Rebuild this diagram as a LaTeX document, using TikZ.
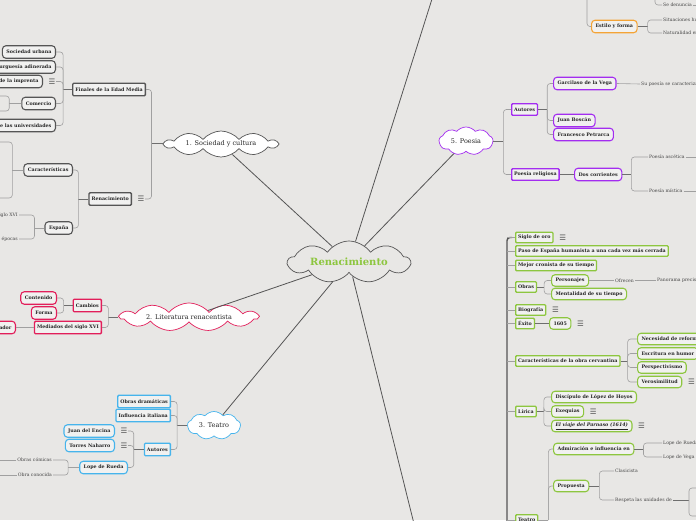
\documentclass[tikz,border=0pt]{standalone}
\usepackage{fontspec}
\usepackage{xcolor}
\usepackage{tikz}
\usetikzlibrary{shapes.symbols, shapes.geometric, positioning, calc}
\newfontfamily\mapfont{DejaVu Serif}
\newfontfamily\glyphfont{DejaVu Sans}
\newcommand\tagfont{\mapfont\bfseries\fontsize{4.8}{5.6}\selectfont}
\newcommand\mapnote{\mapfont\fontsize{4.6}{5.4}\selectfont}
\newcommand\hubfont{\mapfont\fontsize{6.5}{7.5}\selectfont}
\newcommand\rootfont{\mapfont\bfseries\fontsize{10}{12}\selectfont}
\newcommand\menufont{\glyphfont\fontsize{7.5}{8}\selectfont}
\definecolor{paper}{RGB}{232,231,229}
\definecolor{boxfill}{RGB}{241,241,240}
\definecolor{inkgray}{RGB}{85,85,85}
\definecolor{wiregray}{RGB}{160,160,160}
\definecolor{stubgray}{RGB}{110,110,110}
\definecolor{crimson}{RGB}{226,30,90}
\definecolor{skyblue}{RGB}{70,180,236}
\definecolor{poepurple}{RGB}{163,45,240}
\definecolor{leafgreen}{RGB}{141,198,63}
\definecolor{amber}{RGB}{244,164,54}
\definecolor{notegray}{RGB}{70,70,70}
\tikzset{
  % Mind map styles
  hub/.style={cloud, cloud ignores aspect, cloud puff arc=100, draw=inkgray, line width=0.7pt, fill=white, inner sep=0pt, text=black!85, font=\hubfont},
  topic/.style={rectangle, rounded corners=1pt, draw=#1, line width=1.3pt, fill=boxfill, text=black!85, font=\tagfont, inner xsep=2.5pt, inner ysep=0pt, minimum height=12.5pt},
  topic/.default=inkgray,
  leaf/.style={rectangle, rounded corners=3.5pt, draw=#1, line width=1.1pt, fill=boxfill, text=black!85, font=\tagfont, inner xsep=4pt, inner ysep=0pt, minimum height=12.5pt},
  leaf/.default=inkgray,
  note/.style={font=\mapnote, text=notegray, inner sep=1pt},
  menu/.style={font=\menufont, text=inkgray, inner sep=0.5pt},
  % Connector styles
  spoke/.style={draw=inkgray, line width=0.8pt},
  stub/.style={draw=stubgray, line width=0.9pt},
  wire/.style={draw=wiregray, line width=0.6pt, rounded corners=3pt},
  trunk/.style={draw=inkgray, line width=1.4pt},
}

\begin{document}
\begin{tikzpicture}[
    x=1pt, y=-1pt,
    cvtopic/.style={topic=leafgreen, anchor=west, minimum height=10.5pt},
    cvleaf/.style={leaf=leafgreen, anchor=west, minimum height=11.5pt}
  ]
    \path[use as bounding box] (0,0) rectangle (696,520);
    \fill[paper] (0,0) rectangle (696,520);
    \clip (0,0) rectangle (696,520);

    % Root
    \node[hub, minimum width=122pt, minimum height=42pt, cloud puffs=9, cloud puff arc=110, fill=paper, font=\rootfont, text=leafgreen] (ren) at (349,262) {Renacimiento};

    % 1. Sociedad y cultura
    \node[hub, minimum width=112pt, minimum height=26pt, cloud puffs=10] (soc) at (221,144) {1. Sociedad y cultura};
    \node[topic, anchor=east] (fin) at (146,89.5) {Finales de la Edad Media};
    \node[leaf, anchor=east] (urb) at (56,52) {Sociedad urbana};
    \node[leaf, anchor=east] (bur) at (56,67) {Burguesía adinerada};
    \node[leaf, anchor=east] (imp) at (43,81.5) {Invención de la imprenta};
    \node[menu, right=5pt of imp] (impm) {☰};
    \node[leaf, anchor=east] (com) at (56,103.5) {Comercio};
    \node[leaf, anchor=east] (uni) at (56,125.5) {Fundación de las universidades};
    \node[topic, anchor=east] (rnc) at (132,199) {Renacimiento};
    \node[menu, right=5pt of rnc] (rncm) {☰};
    \node[leaf, anchor=east] (crc) at (73,170) {Características};
    \node[leaf, anchor=east] (esp) at (73,228) {España};
    \node[note, anchor=east] (xvi) at (19,215) {Siglo XVI};
    \node[note, anchor=east] (epo) at (19,239) {Dos épocas};
    \coordinate (comup) at (-6,96);
    \coordinate (comdn) at (-6,111);
    \coordinate (crcup) at (-4,142);
    \coordinate (crcdn) at (-4,198);

    \draw[stub] (soc.west) -- ++(-11,0) coordinate (socj);
    \draw[wire] (socj) |- (fin.east);
    \draw[wire] (socj) |- (rncm.east);
    \draw[stub] (fin.west) -- ++(-9,0) coordinate (finj);
    \foreach \k in {urb,bur,impm,com,uni}
      \draw[wire] (finj) |- (\k.east);
    \draw[wire] (com.west) -- ++(-12,0) coordinate (comj);
    \draw[wire] (comj) |- (comup);
    \draw[wire] (comj) |- (comdn);
    \draw[stub] (rnc.west) -- ++(-10,0) coordinate (rncj);
    \draw[wire] (rncj) |- (crc.east);
    \draw[wire] (rncj) |- (esp.east);
    \draw[wire] (crc.west) -- ++(-11,0) coordinate (crcj);
    \draw[wire] (crcj) |- (crcup);
    \draw[wire] (crcj) |- (crcdn);
    \draw[wire] (esp.west) -- ++(-10,0) coordinate (espj);
    \draw[wire] (espj) |- (xvi.east);
    \draw[wire] (espj) |- (epo.east);

    % 2. Literatura renacentista
    \node[hub, draw=crimson, minimum width=138pt, minimum height=28pt, cloud puffs=11] (lit) at (189,317) {2. Literatura renacentista};
    \node[topic=crimson, anchor=east] (cam) at (102,305.5) {Cambios};
    \node[topic=crimson, anchor=east] (med) at (102,327.5) {Mediados del siglo XVI};
    \node[leaf=crimson, anchor=east] (cont) at (57,298) {Contenido};
    \node[leaf=crimson, anchor=east] (form) at (57,313) {Forma};
    \node[leaf=crimson, anchor=east] (inno) at (16,327.5) {Innovador};

    \draw[stub] (lit.west) -- ++(-10,0) coordinate (litj);
    \draw[wire] (litj) |- (cam.east);
    \draw[wire] (litj) |- (med.east);
    \draw[stub] (cam.west) -- ++(-9,0) coordinate (camj);
    \draw[wire] (camj) |- (cont.east);
    \draw[wire] (camj) |- (form.east);
    \draw[wire] (med.west) -- (inno.east);

    % 3. Teatro
    \node[hub, draw=skyblue, minimum width=53pt, minimum height=28pt, cloud puffs=9] (tea) at (214,425.5) {3. Teatro};
    \node[topic=skyblue, anchor=east] (obd) at (171,401.5) {Obras dramáticas};
    \node[topic=skyblue, anchor=east] (ita) at (171,415.5) {Influencia italiana};
    \node[topic=skyblue, anchor=east] (aut) at (171,449.5) {Autores};
    \node[leaf=skyblue, anchor=east] (enc) at (115,431) {Juan del Encina};
    \node[menu, right=5pt of enc] (encm) {☰};
    \node[leaf=skyblue, anchor=east] (nah) at (115,445.5) {Torres Naharro};
    \node[menu, right=5pt of nah] (nahm) {☰};
    \node[leaf=skyblue, anchor=east] (rue) at (128,467.5) {Lope de Rueda};
    \node[note, anchor=east] (cmc) at (53,460) {Obras cómicas};
    \node[note, anchor=east] (cnc) at (53,475) {Obra conocida};
    \coordinate (cmcx) at (-4,460);
    \coordinate (cncx) at (-4,475);

    \draw[stub] (tea.west) -- ++(-10,0) coordinate (teaj);
    \foreach \k in {obd,ita,aut}
      \draw[wire] (teaj) |- (\k.east);
    \draw[stub] (aut.west) -- ++(-10,0) coordinate (autj);
    \foreach \k in {encm,nahm,rue}
      \draw[wire] (autj) |- (\k.east);
    \draw[wire] (rue.west) -- ++(-11,0) coordinate (ruej);
    \draw[wire] (ruej) |- (cmc.east);
    \draw[wire] (ruej) |- (cnc.east);
    \draw[wire] (cmc.west) -- (cmcx);
    \draw[wire] (cnc.west) -- (cncx);

    % 5. Poesia
    \node[hub, draw=poepurple, minimum width=54pt, minimum height=28pt, cloud puffs=9] (poe) at (466,141) {5. Poesia};
    \node[topic=poepurple, anchor=west, minimum height=11.5pt] (pau) at (511,109.5) {Autores};
    \node[topic=poepurple, anchor=west, minimum height=11.5pt] (prl) at (511,174.5) {Poesía religiosa};
    \node[leaf=poepurple, anchor=west] (gar) at (553,83.5) {Garcilaso de la Vega};
    \node[leaf=poepurple, anchor=west] (bos) at (553,120.5) {Juan Boscán};
    \node[leaf=poepurple, anchor=west] (pet) at (553,134.5) {Francesco Petrarca};
    \node[note, anchor=west] (sup) at (640,84) {Su poesía se caracteriza por};
    \node[leaf=poepurple, anchor=west] (dos) at (574,174.5) {Dos corrientes};
    \node[note, anchor=west] (asc) at (648,157) {Poesía ascética};
    \node[note, anchor=west] (mis) at (648,191) {Poesía mística};
    \coordinate (ascx) at (700,157);
    \coordinate (misx) at (700,191);

    \draw[stub] (poe.east) -- ++(10,0) coordinate (poej);
    \draw[wire] (poej) |- (pau.west);
    \draw[wire] (poej) |- (prl.west);
    \draw[stub] (pau.east) -- ++(9,0) coordinate (pauj);
    \foreach \k in {gar,bos,pet}
      \draw[wire] (pauj) |- (\k.west);
    \draw[wire] (gar.east) -- (sup.west);
    \draw[stub] (prl.east) -- (dos.west);
    \draw[stub] (dos.east) -- ++(9,0) coordinate (dosj);
    \draw[wire] (dosj) |- (asc.west);
    \draw[wire] (dosj) |- (mis.west);
    \draw[wire] (asc.east) -- (ascx);
    \draw[wire] (mis.east) -- (misx);

    % Branch leaving at the top
    \coordinate (pros) at (438,-20);
    \coordinate (prosj) at (587,-10);
    \coordinate (denj) at (655,-12);
    \coordinate (denx) at (700,5);
    \node[leaf=amber, anchor=west] (est) at (591,26.5) {Estilo y forma};
    \node[note, anchor=west] (den) at (662,5) {Se denuncia};
    \node[note, anchor=west] (sit) at (662,20) {Situaciones humorísticas};
    \node[note, anchor=west] (nat) at (662,33) {Naturalidad en el lenguaje};
    \draw[wire] (prosj) |- (est.west);
    \draw[wire] (denj) |- (den.west);
    \draw[wire] (den.east) -- (denx);
    \draw[stub] (est.east) -- ++(10,0) coordinate (estj);
    \draw[wire] (estj) |- (sit.west);
    \draw[wire] (estj) |- (nat.west);

    % Branch leaving at the bottom
    \coordinate (cerv) at (418,540);
    \coordinate (cvs) at (507,560);
    \node[cvtopic] (sig) at (515,237.5) {Siglo de oro};
    \node[menu, right=5pt of sig] (sigm) {☰};
    \node[cvtopic] (pas) at (515,251) {Paso de España humanista a una cada vez más cerrada};
    \node[cvtopic] (mej) at (515,265.5) {Mejor cronista de su tiempo};
    \node[cvtopic] (obr) at (515,287) {Obras};
    \node[cvtopic] (bio) at (515,310) {Biografía};
    \node[menu, right=5pt of bio] (biom) {☰};
    \node[cvtopic] (exi) at (515,323.5) {Éxito};
    \node[cvtopic] (cvc) at (515,361) {Características de la obra cervantina};
    \node[cvtopic] (lir) at (515,411.5) {Lírica};
    \node[cvtopic] (cvt) at (515,520) {Teatro};

    \node[cvleaf] (pers) at (551,280.5) {Personajes};
    \node[cvleaf] (ment) at (551,294) {Mentalidad de su tiempo};
    \node[note, anchor=west] (ofr) at (614,280.5) {Ofrecen};
    \node[note, anchor=west] (pan) at (656,280.5) {Panorama preciso de la época};
    \node[cvleaf] (yr) at (549,323.5) {1605};
    \node[menu, right=5pt of yr] (yrm) {☰};
    \node[cvleaf] (nec) at (637,339) {Necesidad de reforma};
    \node[cvleaf] (hum) at (637,353.5) {Escritura en humor};
    \node[cvleaf] (psp) at (637,367.5) {Perspectivismo};
    \node[cvleaf] (ver) at (637,382) {Verosimilitud};
    \node[menu, right=5pt of ver] (verm) {☰};
    \node[cvleaf] (dis) at (551,397) {Discípulo de López de Hoyos};
    \node[cvleaf] (exq) at (551,411.5) {Exequias};
    \node[menu, right=5pt of exq] (exqm) {☰};
    \node[cvleaf] (via) at (551,426) {\itshape\underline{El viaje del Parnaso (1614)}};
    \node[menu, right=5pt of via] (viam) {☰};
    \node[cvleaf] (adm) at (553,449) {Admiración e influencia en};
    \node[cvleaf] (pro) at (553,486) {Propuesta};
    \node[note, anchor=west] (lru) at (662,443) {Lope de Rueda};
    \node[note, anchor=west] (lve) at (662,457) {Lope de Vega};
    \node[note, anchor=west] (cla) at (614,471) {Clasicista};
    \node[note, anchor=west] (res) at (614,500) {Respeta las unidades de};
    \coordinate (resj) at (689,500);
    \coordinate (resup) at (700,488);
    \coordinate (resdn) at (700,516);

    \draw[trunk, rounded corners=3pt] (cvs) |- ($(sig.west)+(-3,0)$);
    \foreach \k in {sig,pas,mej,obr,bio,exi,cvc,lir,cvt}
      \draw[wire] (cvs |- \k.west) -- (\k.west);
    \draw[stub] (obr.east) -- ++(7,0) coordinate (obrj);
    \draw[wire] (obrj) |- (pers.west);
    \draw[wire] (obrj) |- (ment.west);
    \draw[wire] (pers.east) -- (ofr.west);
    \draw[wire] (ofr.east) -- (pan.west);
    \draw[stub] (exi.east) -- (yr.west);
    \draw[stub] (cvc.east) -- ++(7,0) coordinate (cvcj);
    \foreach \k in {nec,hum,psp,ver}
      \draw[wire] (cvcj) |- (\k.west);
    \draw[stub] (lir.east) -- ++(7,0) coordinate (lirj);
    \foreach \k in {dis,exq,via}
      \draw[wire] (lirj) |- (\k.west);
    \draw[wire] (cvt.east) -- ++(10,0) coordinate (cvtj);
    \draw[wire] (cvtj) |- (adm.west);
    \draw[wire] (cvtj) |- (pro.west);
    \draw[stub] (adm.east) -- ++(9,0) coordinate (admj);
    \draw[wire] (admj) |- (lru.west);
    \draw[wire] (admj) |- (lve.west);
    \draw[stub] (pro.east) -- ++(10,0) coordinate (proj);
    \draw[wire] (proj) |- (cla.west);
    \draw[wire] (proj) |- (res.west);
    \draw[stub] (res.east) -- (resj);
    \draw[wire] (resj) |- (resup);
    \draw[wire] (resj) |- (resdn);

    % Spokes from the root
    \foreach \k in {soc,lit,tea,poe,pros,cerv}
      \draw[spoke] (ren) -- (\k);
  \end{tikzpicture}
\end{document}
